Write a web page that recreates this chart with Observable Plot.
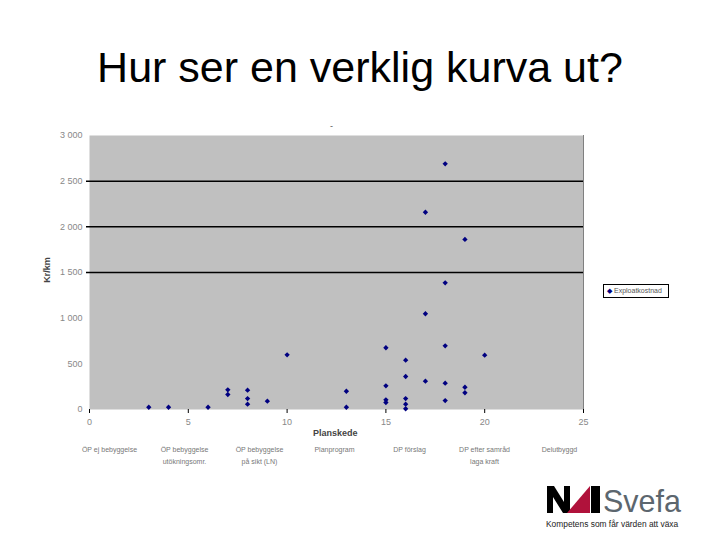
<!DOCTYPE html>
<html><head><meta charset="utf-8">
<script src="https://cdn.jsdelivr.net/npm/d3@7"></script>
<script src="https://cdn.jsdelivr.net/npm/@observablehq/plot@0.6"></script>
<style>
body{margin:0;background:#fff;font-family:"Liberation Sans",Arial,sans-serif;}
#wrap{position:relative;width:720px;height:540px;overflow:hidden;background:#fff;}
#wrap > svg{position:absolute;left:0;top:0;}
.abs{position:absolute;white-space:nowrap;}
#title{left:0;top:46px;width:720px;text-align:center;font-size:43px;line-height:43px;color:#000;}
#cats{position:absolute;left:72px;top:444px;display:grid;grid-template-columns:repeat(7,75px);font-size:7px;line-height:12px;color:#777;text-align:center;}
#legend{left:603px;top:284px;width:64px;height:12px;border:1px solid #000;font-size:7px;line-height:12px;color:#555;background:#fff;}
</style></head><body><div id="wrap"></div>
<script>
// Planskede (x) och Kr/km (y)
const planskede = [3, 4, 6, 7, 7, 8, 8, 8, 9, 10, 13, 13, 15, 15, 15, 15, 16, 16, 16, 16, 16, 17, 17, 17, 18, 18, 18, 18, 18, 19, 19, 19, 20];
const krkm      = [25, 25, 25, 215, 164, 212, 120, 58, 91, 599, 200, 25, 676, 259, 106, 77, 540, 361, 120, 58, 8, 2160, 1048, 310, 2690, 1387, 697, 288, 98, 1862, 244, 183, 595];
const xTicks = [0, 5, 10, 15, 20, 25];
const yTicks = [0, 500, 1000, 1500, 2000, 2500, 3000];
const yTickLabels = ["0", "500", "1 000", "1 500", "2 000", "2 500", "3 000"];
const gridValues = [1500, 2000, 2500];
const categories = ["ÖP ej bebyggelse", "ÖP bebyggelse\nutökningsomr.", "ÖP bebyggelse\npå sikt (LN)", "Planprogram", "DP förslag", "DP efter samråd\nlaga kraft", "Delutbyggd"];
const seriesName = "Exploatkostnad";

const data = planskede.map((x, i) => ({x, y: krkm[i]}));
const font = '"Liberation Sans", Arial, sans-serif';

const chart = Plot.plot({
  width: 720, height: 540,
  marginTop: 135, marginBottom: 131, marginLeft: 89, marginRight: 137,
  style: {fontFamily: font, background: "transparent", overflow: "visible"},
  x: {domain: [0, 25]},
  y: {domain: [0, 3000]},
  marks: [
    Plot.frame({fill: "#c0c0c0"}),
    Plot.ruleY(gridValues, {stroke: "#000", strokeWidth: 1.5, insetLeft: -3}),
    Plot.ruleX([25], {stroke: "#808080"}),
    Plot.axisX({ticks: xTicks, tickSize: 4, tickPadding: 5, fontSize: 9, stroke: "#000", fill: "#888", label: null}),
    Plot.axisY({ticks: yTicks, tickSize: 0, tickPadding: 7, fontSize: 9, fill: "#888", label: null,
      tickFormat: d => yTickLabels[yTicks.indexOf(d)]}),
    Plot.dot(data, {x: "x", y: "y", symbol: "diamond2", r: 2.4, fill: "#000080", stroke: "none"})
  ]
});

const wrap = document.getElementById("wrap");
wrap.appendChild(chart);

function addDiv(id, cls, html, style) {
  const d = document.createElement("div");
  if (id) d.id = id;
  d.className = cls || "";
  d.innerHTML = html;
  if (style) d.setAttribute("style", style);
  wrap.appendChild(d);
  return d;
}

addDiv("title", "abs", "Hur ser en verklig kurva ut?");
addDiv(null, "abs", "-", "left:330px;top:121px;font-size:9px;color:#555;");
addDiv(null, "abs", "Kr/km", "left:47px;top:270px;font-size:9px;font-weight:bold;color:#444;transform:translate(-50%,-50%) rotate(-90deg);");
addDiv(null, "abs", "Planskede", "left:313px;top:428px;font-size:9px;font-weight:bold;color:#444;");

const cats = document.createElement("div");
cats.id = "cats";
categories.forEach(c => {
  const d = document.createElement("div");
  d.innerHTML = c.split("\n").join("<br>");
  cats.appendChild(d);
});
wrap.appendChild(cats);

addDiv("legend", "abs", '<span style="color:#000080;font-size:7px;margin:0 2px 0 3px;">◆</span>' + seriesName);

const logo = addDiv(null, "abs", `
<svg width="150" height="52" xmlns="http://www.w3.org/2000/svg">
  <polygon points="2,31 2,4 9,4 19,20 19,4 25,4 25,31 18,31 8,15 8,31" fill="#000"/>
  <polygon points="22,31 45,4 45,31" fill="#b0123b"/>
  <rect x="46" y="4" width="9" height="27" fill="#000"/>
  <text x="58" y="30" font-family='${font}' font-size="30.5" fill="#5c666e">Svefa</text>
  <text x="1" y="45" font-family='${font}' font-size="8.4" fill="#222">Kompetens som får värden att växa</text>
</svg>`, "left:545px;top:482px;");
</script>
</body></html>
